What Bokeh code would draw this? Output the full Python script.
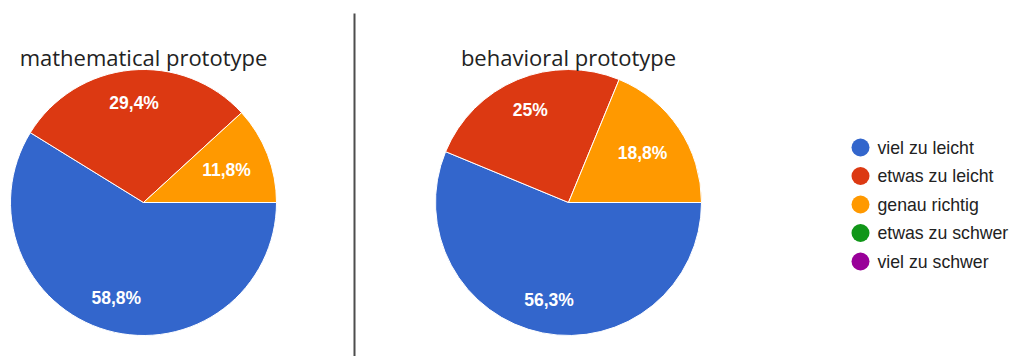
import math
from bokeh.plotting import figure
from bokeh.models import Range1d, ColumnDataSource
from bokeh.core.properties import value
from bokeh.embed import file_html
from bokeh.resources import INLINE

# ---- data ----
categories = ["viel zu leicht", "etwas zu leicht", "genau richtig", "etwas zu schwer", "viel zu schwer"]
colors = ["#3366cc", "#dc3912", "#ff9900", "#109618", "#990099"]
titles = ["mathematical prototype", "behavioral prototype"]
math_values = [58.8, 29.4, 11.8, 0, 0]
behav_values = [56.3, 25.0, 18.8, 0, 0]

# ---- layout (pixels) ----
W, H = 1015, 356
centers = [(143, 202), (568, 202)]
R = 133

p = figure(width=W, height=H, output_backend="svg", toolbar_location=None,
           x_range=Range1d(0, W), y_range=Range1d(0, H), min_border=0)
p.axis.visible = False
p.grid.visible = False
p.outline_line_color = None
p.background_fill_color = "white"
p.border_fill_color = "white"

def Y(ypix):
    return H - ypix

for (cx, cy), title, vals in zip(centers, titles, [math_values, behav_values]):
    total = float(sum(vals))
    cum = 0.0
    ws = dict(x=[], y=[], s=[], e=[], c=[])
    ls = dict(x=[], y=[], t=[])
    for v, col in zip(vals, colors):
        if v <= 0:
            continue
        f0 = cum / total
        f1 = (cum + v) / total
        cum += v
        ws["x"].append(cx); ws["y"].append(Y(cy))
        ws["s"].append(-f1 * 2 * math.pi); ws["e"].append(-f0 * 2 * math.pi)
        ws["c"].append(col)
        mid = -(f0 + f1) / 2 * 2 * math.pi
        rf = 0.75 if (f1 - f0) > 0.2 else 0.67
        ls["x"].append(cx + rf * R * math.cos(mid))
        ls["y"].append(Y(cy) + rf * R * math.sin(mid))
        ls["t"].append(("%g" % v).replace(".", ",") + "%")
    p.wedge(x="x", y="y", radius=R, start_angle="s", end_angle="e",
            fill_color="c", line_color="white", line_width=1,
            source=ColumnDataSource(ws))
    p.text(x="x", y="y", text="t", source=ColumnDataSource(ls),
           text_color="white", text_font=value("Liberation Sans"),
           text_font_size="17.5px", text_font_style="bold",
           text_align="center", text_baseline="middle")
    p.text(x=[cx], y=[Y(56)], text=[title], text_color="#222222",
           text_font=value("Open Sans"), text_font_size="22px",
           text_align="center", text_baseline="middle")

# divider
p.segment(x0=[354], y0=[Y(13)], x1=[354], y1=[Y(356)], line_color="#4d4d4d", line_width=2)

# legend
lx, ly0, dy = 860, 147, 28.5
ly = [Y(ly0 + i * dy) for i in range(len(categories))]
p.scatter(x=[lx] * len(categories), y=ly, size=18, marker="circle",
          fill_color=colors, line_color=None)
p.text(x=[lx + 17] * len(categories), y=ly, text=categories, text_color="#222222",
       text_font=value("Liberation Sans"), text_font_size="17.7px",
       text_align="left", text_baseline="middle")

open("out.html", "w").write(file_html(p, INLINE))
